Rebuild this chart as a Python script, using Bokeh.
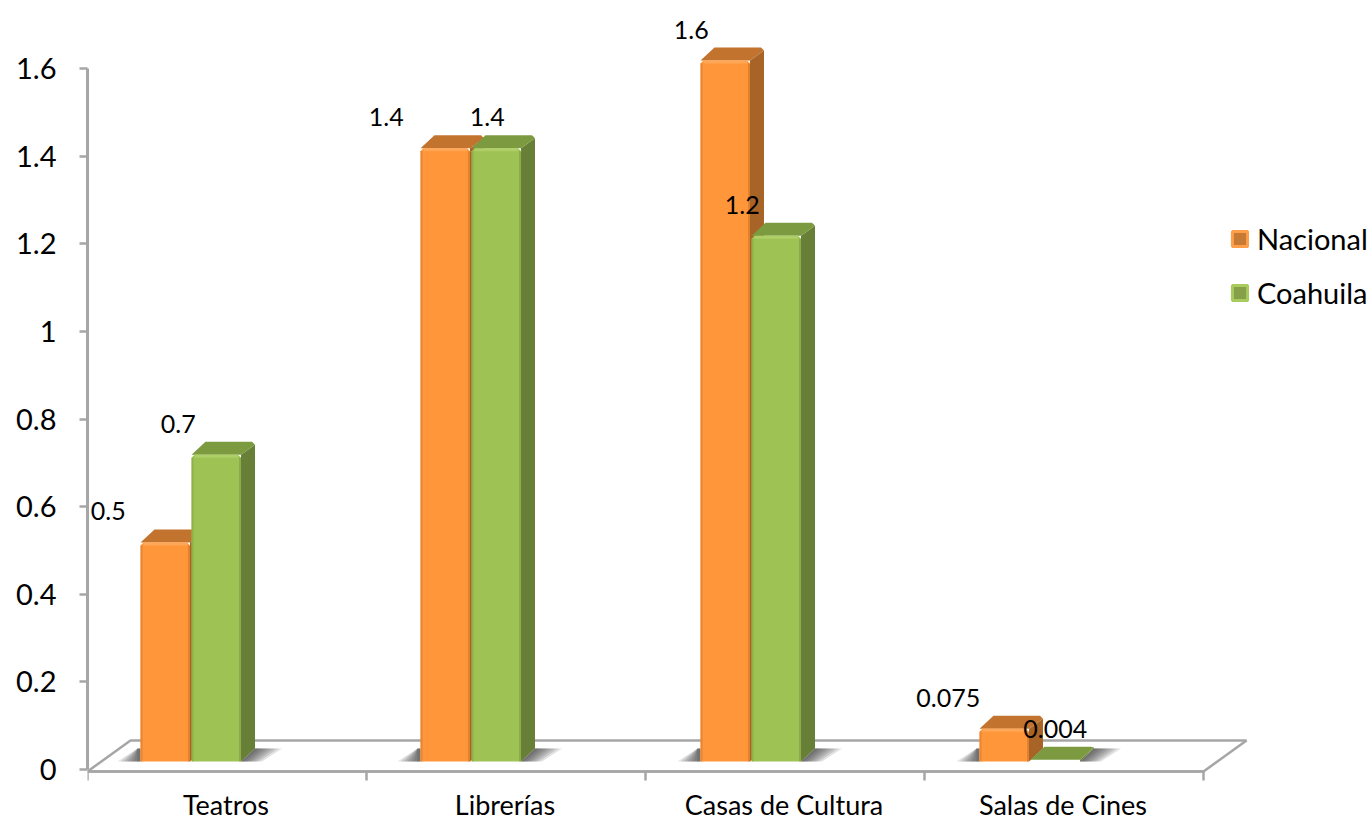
from bokeh.plotting import figure
from bokeh.models import Range1d, LinearAxis, FixedTicker, Legend, LegendItem, ColumnDataSource
from bokeh.embed import file_html
from bokeh.resources import INLINE
from bokeh.core.properties import value as val

categories = ["Teatros", "Librerías", "Casas de Cultura", "Salas de Cines"]
nacional = [0.5, 1.4, 1.6, 0.075]
coahuila = [0.7, 1.4, 1.2, 0.004]
nacional_labels = ["0.5", "1.4", "1.6", "0.075"]
coahuila_labels = ["0.7", "1.4", "1.2", "0.004"]
y_ticks = [0, 0.2, 0.4, 0.6, 0.8, 1, 1.2, 1.4, 1.6]

# layout (pixels per data unit and pseudo-3D geometry)
W, H = 1371, 820
BL = 87
AXIS_PX_FROM_BOTTOM = 49
UX, UY = 279.0, 438.1
FRAME_W, FRAME_H = W - BL, H
px = lambda n: n / UX
py = lambda n: n / UY
FLOOR_Y = -py(2)
BASE = py(8)
BW = px(49.5)
DX, DY = px(14), py(13)
GROUP_X = [px(53), px(333), px(613), px(892)]
GAP = px(51)
FONT = "Lato"
GRAY = "#A6A6A6"

y_start = FLOOR_Y - py(AXIS_PX_FROM_BOTTOM)
p = figure(width=W, height=H, output_backend="svg", toolbar_location=None,
           x_range=Range1d(0, FRAME_W / UX),
           y_range=Range1d(y_start, y_start + py(FRAME_H)),
           x_axis_type=None, y_axis_type=None,
           min_border_left=BL, min_border_right=0, min_border_top=0, min_border_bottom=0,
           outline_line_color=None, background_fill_color="white", border_fill_color="white")
p.grid.visible = False

# floor
fx0, fx1 = 0, 4
sx, sy = px(43), py(31)
p.line([fx0, fx0 + sx, fx1 + sx, fx1, fx0], [FLOOR_Y, FLOOR_Y + sy, FLOOR_Y + sy, FLOOR_Y, FLOOR_Y],
       line_color=GRAY, line_width=2.5)

# axes
yaxis = LinearAxis(ticker=FixedTicker(ticks=y_ticks), bounds=(0, 1.6),
                   major_label_overrides={0: "0", 1: "1"})
yaxis.axis_line_color = GRAY
yaxis.axis_line_width = 3
yaxis.major_tick_line_color = GRAY
yaxis.major_tick_line_width = 2.5
yaxis.major_tick_out = 8
yaxis.major_tick_in = 0
yaxis.minor_tick_out = 0
yaxis.minor_tick_in = 0
yaxis.major_label_standoff = 23
yaxis.major_label_text_font = FONT
yaxis.major_label_text_font_size = "29px"
yaxis.major_label_text_color = "black"
p.add_layout(yaxis, "left")

xaxis = LinearAxis(ticker=FixedTicker(ticks=[], minor_ticks=list(range(5))),
                   bounds=(0, 4), fixed_location=FLOOR_Y)
xaxis.axis_line_color = GRAY
xaxis.axis_line_width = 2.5
xaxis.major_tick_out = 0
xaxis.major_tick_in = 0
xaxis.minor_tick_line_color = GRAY
xaxis.minor_tick_line_width = 2.5
xaxis.minor_tick_out = 9
xaxis.minor_tick_in = 0
p.add_layout(xaxis, "below")

# category names, centred under each group
cat_src = ColumnDataSource(dict(x=[i + 0.5 - px(1) for i in range(4)], y=[FLOOR_Y] * 4, t=categories))
p.text(x="x", y="y", text="t", y_offset=33, source=cat_src, text_align="center", text_baseline="middle",
       text_font=val(FONT), text_font_size="27px", text_color="black")


def shadows(x0, x1):
    steps = 7
    for k in range(steps):
        f = (k + 1) / steps
        p.patch([x0, x0 - px(23) * f, x0 - px(3), x0],
                [BASE, BASE, BASE + DY, BASE + DY],
                fill_color="#202020", fill_alpha=0.13, line_color=None)
        p.patch([x1, x1 + px(21) * f, x1 + DX + px(27) * f, x1 + DX],
                [BASE, BASE, BASE + DY, BASE + DY],
                fill_color="#202020", fill_alpha=0.13, line_color=None)


def bar(x, v, front, edge, light, top, side):
    l, r, b, t = x, x + BW, BASE, BASE + v
    c = px(3)
    cy = min(py(3), v / 2)
    ty = t + DY
    p.patch([r, r + DX, r + DX, r], [t, ty - cy, b + DY, b], fill_color=side, line_color=None)
    p.patch([l, l + DX, r + DX - c, r + DX, r], [t, ty, ty, ty - cy, t], fill_color=top, line_color=None)
    if v < py(4):
        return
    p.patch([l, l, l + c, r - c, r, r], [b, t - cy, t, t, t - cy, b],
            fill_color=front, line_color=None)
    p.quad(left=[l], right=[l + px(2)], bottom=[b], top=[t - cy], fill_color=edge, line_color=None, fill_alpha=0.6)
    p.quad(left=[r - px(2)], right=[r], bottom=[b], top=[t - cy], fill_color=edge, line_color=None, fill_alpha=0.8)
    p.quad(left=[l + c], right=[r - c], bottom=[t - py(3)], top=[t], fill_color=light, line_color=None, fill_alpha=0.7)


O = dict(front="#FF963A", edge="#D97C2C", light="#FFAE62", top="#C2732D", side="#A86326")
G = dict(front="#9FC255", edge="#86A645", light="#B4D46C", top="#7C9A40", side="#677F36")

for i in range(4):
    x = GROUP_X[i]
    shadows(x, x + GAP + BW)
for i in range(4):
    x = GROUP_X[i]
    bar(x, nacional[i], **O)
    bar(x + GAP, coahuila[i], **G)

# legend swatches: zero-size quads below the visible range, shown only in the legend
ro = p.quad(left=[0], right=[0], top=[-1], bottom=[-1],
            fill_color="#C77A33", line_color="#FF9F4A", line_width=3)
rg = p.quad(left=[0], right=[0], top=[-1], bottom=[-1],
            fill_color="#86A04A", line_color="#A9CB5E", line_width=3)
legend = Legend(items=[LegendItem(label="Nacional", renderers=[ro]), LegendItem(label="Coahuila", renderers=[rg])],
                location=(1143, 510), orientation="vertical", glyph_width=19, glyph_height=19,
                label_height=30, spacing=19, padding=0, margin=0, label_standoff=8,
                background_fill_alpha=0, border_line_color=None,
                label_text_font=FONT, label_text_font_size="29px", label_text_color="black",
                label_text_baseline="middle")
p.add_layout(legend)

# data labels
lab_x, lab_y, lab_t, lab_dx = [], [], [], []
nac_dx = [-57, -59, -34, -56]
coa_dx = [-38, -9, -34, 0]
for i in range(4):
    lab_x += [GROUP_X[i] + BW / 2, GROUP_X[i] + GAP + BW / 2]
    lab_y += [nacional[i], coahuila[i]]
    lab_t += [nacional_labels[i], coahuila_labels[i]]
    lab_dx += [nac_dx[i], coa_dx[i]]
src = ColumnDataSource(dict(x=lab_x, y=lab_y, t=lab_t, dx=lab_dx))
p.text(x="x", y="y", text="t", x_offset="dx", y_offset=-39, source=src, text_align="center",
       text_baseline="middle", text_font=val(FONT), text_font_size="25px", text_color="black")

open("out.html", "w").write(file_html(p, INLINE))
